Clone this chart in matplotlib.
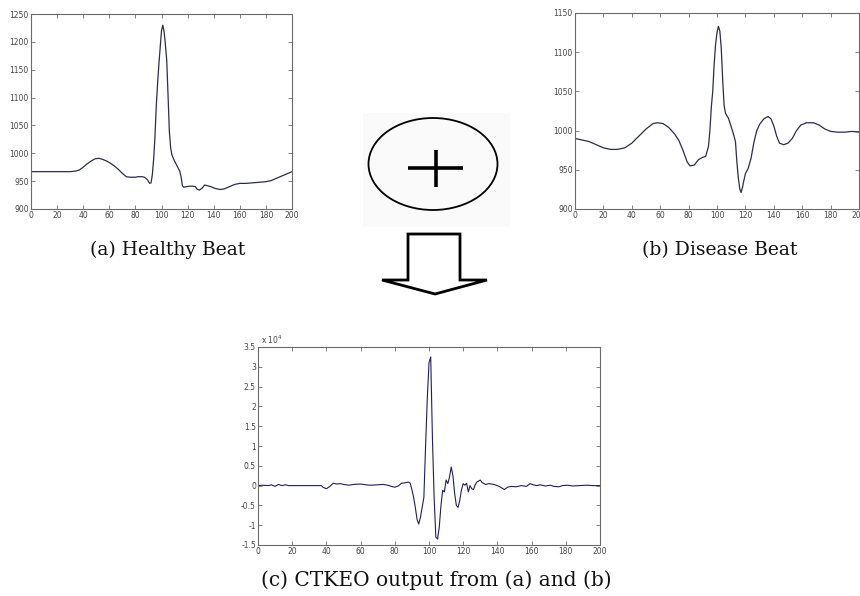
import numpy as np
import matplotlib
matplotlib.use("Agg")
import matplotlib.pyplot as plt
from matplotlib.patches import Ellipse, Polygon, Rectangle
from matplotlib.ticker import FormatStrFormatter

# --------------------------------------------------------------
# Data
# --------------------------------------------------------------
healthy_x = [0, 10, 20, 30, 34, 37, 40, 43, 46, 49, 52, 55, 58, 61, 64, 67, 70, 73, 76, 80,
             82, 85, 87, 89, 91, 92, 93, 94, 95, 96, 97, 98, 99, 100, 101, 102, 103, 104, 105,
             106, 107, 108, 110, 112, 114, 115, 116, 117, 119, 122, 124, 126, 127, 129, 131,
             133, 135, 138, 141, 145, 148, 152, 156, 160, 165, 170, 175, 180, 184, 188, 192,
             196, 200]
healthy_y = [967, 967, 967, 967, 968, 970, 975, 981, 986, 990, 991, 989, 986, 982, 977, 971,
             964, 958, 957, 957, 958, 958, 957, 953, 946, 947, 962, 990, 1030, 1085, 1125,
             1160, 1190, 1220, 1230, 1218, 1195, 1167, 1105, 1040, 1010, 997, 986, 977, 968,
             958, 942, 939, 940, 941, 941, 940, 936, 934, 937, 943, 942, 940, 937, 935, 936,
             940, 944, 946, 946, 947, 948, 949, 951, 955, 959, 963, 967]

disease_x = [0, 5, 10, 15, 20, 25, 30, 35, 40, 45, 50, 55, 58, 62, 66, 70, 73, 76, 79, 81,
             84, 87, 90, 92, 94, 95, 96, 97, 98, 99, 100, 101, 102, 103, 104, 105, 106, 108,
             110, 112, 113, 114, 115, 116, 117, 118, 119, 120, 122, 124, 126, 128, 130, 133,
             136, 138, 140, 142, 144, 147, 150, 153, 156, 159, 163, 168, 172, 176, 180, 185,
             190, 195, 200]
disease_y = [990, 988, 986, 982, 978, 976, 976, 978, 984, 993, 1002, 1009, 1010, 1009, 1004,
             996, 988, 975, 960, 955, 956, 963, 966, 967, 980, 1000, 1030, 1050, 1085, 1110,
             1125, 1133, 1127, 1105, 1065, 1032, 1022, 1016, 1005, 993, 986, 960, 940, 926,
             921, 928, 937, 945, 952, 965, 985, 1000, 1008, 1015, 1018, 1015, 1006, 993, 984,
             982, 984, 990, 1000, 1007, 1010, 1010, 1007, 1002, 999, 998, 998, 999, 998]

ctkeo_x = [0, 3, 6, 8, 10, 12, 14, 16, 18, 37, 38, 40, 42, 44, 46, 48, 50, 53, 56, 60, 63,
           66, 70, 73, 76, 78, 80, 82, 84, 86, 88, 89, 90, 91, 92, 93, 94, 95, 96, 97, 98, 99,
           100, 101, 102, 103, 104, 105, 106, 107, 108, 109, 110, 111, 112, 113, 114, 115, 116,
           117, 118, 119, 120, 121, 122, 123, 124, 125, 126, 127, 128, 130, 131, 133, 135, 138,
           141, 143, 144, 146, 148, 151, 154, 157, 159, 161, 163, 165, 168, 171, 173, 176, 178,
           181, 184, 188, 192, 196, 200]
# values in units of 1e4
ctkeo_y = [0, 0.01, 0, 0.02, -0.02, 0.03, 0, 0.02, 0, 0, -0.04, -0.08, -0.02, 0.06, 0.04,
           0.05, 0.03, 0.01, 0.03, 0.04, 0.02, 0.01, 0.02, 0.03, 0.01, -0.02, -0.04, -0.01,
           0.06, 0.07, 0.09, 0.06, -0.1, -0.3, -0.55, -0.85, -0.97, -0.8, -0.55, -0.3, 1.0,
           2.2, 3.1, 3.25, 1.2, -0.3, -1.3, -1.35, -1.05, -0.5, -0.12, -0.16, 0.14, 0.05,
           0.22, 0.47, 0.25, -0.2, -0.5, -0.55, -0.37, -0.1, 0.05, 0.01, 0.06, -0.16, 0,
           -0.08, -0.1, 0.02, 0.09, 0.14, 0.08, 0.03, 0.05, 0.03, -0.02, -0.07, -0.1, -0.04,
           -0.02, -0.03, 0, -0.02, 0.05, 0.02, 0, 0.02, -0.01, 0.01, -0.02, -0.03, 0, 0.01,
           -0.01, 0, 0.01, 0, 0]

x_ticks = list(range(0, 201, 20))
healthy_yticks = [900, 950, 1000, 1050, 1100, 1150, 1200, 1250]
disease_yticks = [900, 950, 1000, 1050, 1100, 1150]
ctkeo_yticks = [-1.5, -1, -0.5, 0, 0.5, 1, 1.5, 2, 2.5, 3, 3.5]

W, H = 860, 596
LINE = "#2c2c4c"
SPINE = "#6a6a6a"


def px_axes(fig, left, top, right, bottom):
    return fig.add_axes([left / W, 1 - bottom / H, (right - left) / W, (bottom - top) / H])


def style(ax, yticks):
    ax.set_xlim(0, 200)
    ax.set_ylim(yticks[0], yticks[-1])
    ax.set_xticks(x_ticks)
    ax.set_yticks(yticks)
    ax.yaxis.set_major_formatter(FormatStrFormatter("%g"))
    ax.tick_params(direction="in", length=3, width=0.6, top=True, right=True,
                   labelsize=5.5, labelcolor="#444444", color=SPINE, pad=1.5)
    for s in ax.spines.values():
        s.set_color(SPINE)
        s.set_linewidth(0.8)


fig = plt.figure(figsize=(W / 100, H / 100), dpi=100)

# --------------------------------------------------------------
# Decorations: circle with plus and the down arrow
# --------------------------------------------------------------
deco = fig.add_axes([0, 0, 1, 1])
deco.set_xlim(0, W)
deco.set_ylim(H, 0)
deco.axis("off")
deco.add_patch(Rectangle((363, 113), 147, 114, facecolor="#fafafa", edgecolor="none"))
deco.add_patch(Ellipse((433, 164), 129, 92, facecolor="none", edgecolor="black", lw=1.3))
deco.plot([408, 463], [168, 168], color="black", lw=2.6, solid_capstyle="butt")
deco.plot([436, 436], [150, 187], color="black", lw=2.6, solid_capstyle="butt")
arrow = [(408, 280), (408, 234), (460, 234), (460, 280), (487, 280), (435, 294), (382, 280)]
deco.add_patch(Polygon(arrow, closed=True, facecolor="white", edgecolor="black", lw=2.0,
                       joinstyle="miter"))

# --------------------------------------------------------------
# Panels
# --------------------------------------------------------------
ax_a = px_axes(fig, 31, 14, 292, 209)
ax_a.plot(healthy_x, healthy_y, color=LINE, lw=0.9)
style(ax_a, healthy_yticks)

ax_b = px_axes(fig, 575, 13, 859, 209)
ax_b.plot(disease_x, disease_y, color=LINE, lw=0.9)
style(ax_b, disease_yticks)

ax_c = px_axes(fig, 258, 347, 600, 545)
ax_c.plot(ctkeo_x, ctkeo_y, color="#20205a", lw=0.8)
style(ax_c, ctkeo_yticks)
ax_c.text(0.01, 1.005, r"x 10$^4$", transform=ax_c.transAxes, fontsize=5.5,
          color="#444444", ha="left", va="bottom")

fig.text(168 / W, 1 - 250 / H, "(a) Healthy Beat", ha="center", va="center",
         fontsize=13.5, family="DejaVu Serif", color="#111111")
fig.text(720 / W, 1 - 250 / H, "(b) Disease Beat", ha="center", va="center",
         fontsize=13.5, family="DejaVu Serif", color="#111111")
fig.text(436 / W, 1 - 580 / H, "(c) CTKEO output from (a) and (b)", ha="center",
         va="center", fontsize=14.5, family="DejaVu Serif", color="#111111")

fig.savefig("out.png", dpi=100)
